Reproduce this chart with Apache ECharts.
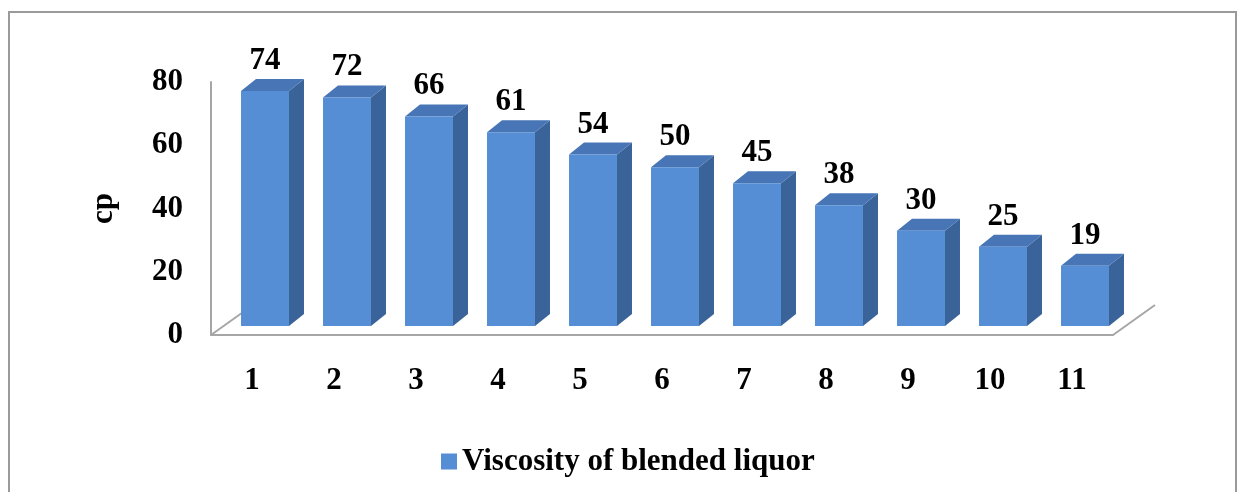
<!DOCTYPE html>
<html>
<head>
<meta charset="utf-8">
<script src="https://cdn.jsdelivr.net/npm/echarts@6/dist/echarts.min.js"></script>
<style>
  html, body { margin: 0; padding: 0; background: #fff; }
  #main { width: 1238px; height: 492px; }
</style>
</head>
<body>
<div id="main"></div>
<script>
// data
const categories = ['1', '2', '3', '4', '5', '6', '7', '8', '9', '10', '11'];
const viscosity = [74, 72, 66, 61, 54, 50, 45, 38, 30, 25, 19];
const yTicks = [0, 20, 40, 60, 80];
const seriesName = 'Viscosity of blended liquor';

window.addEventListener('load', function () {
    let chart = echarts.init(document.getElementById('main'));
    let font = 'Liberation Serif, Times New Roman, serif';

    // 3d look
    let dx = 15, dy = 12;
    let front = '#558ED5', side = '#3A6399', topc = '#4775B5';

    // label grid (floor / wall) and bar grid
    let lg = { left: 211, top: 82, width: 902, height: 253 };
    let bg = { left: 224, top: 72, width: 902, height: 254 };

    function renderBar(params, api) {
        let i = api.value(0);
        let v = api.value(1);
        let p0 = api.coord([i, 0]);
        let p1 = api.coord([i, v]);
        let w = api.size([1, 0])[0] * 0.585;
        let x0 = p0[0] - w / 2, x1 = p0[0] + w / 2;
        let yb = p0[1], yt = p1[1];
        return {
            type: 'group',
            children: [
                { type: 'polygon', shape: { points: [[x1, yb], [x1 + dx, yb - dy], [x1 + dx, yt - dy], [x1, yt]] },
                  style: { fill: side } },
                { type: 'polygon', shape: { points: [[x0, yt], [x1, yt], [x1 + dx, yt - dy], [x0 + dx, yt - dy]] },
                  style: { fill: topc } },
                { type: 'rect', shape: { x: x0, y: yt, width: w, height: yb - yt },
                  style: { fill: front } },
                { type: 'text', style: { text: String(v), x: p0[0], y: yt - 30, align: 'center', verticalAlign: 'middle',
                  font: 'bold 31px ' + font, fill: '#000' } }
            ]
        };
    }

    let option = {
        animation: false,
        grid: [
            Object.assign({}, bg),
            Object.assign({}, lg)
        ],
        xAxis: [
            { gridIndex: 0, type: 'category', data: categories, show: false },
            { gridIndex: 1, type: 'category', data: categories,
              axisLine: { show: true, lineStyle: { color: '#a6a6a6', width: 2 } },
              axisTick: { show: false },
              axisLabel: { margin: 46, verticalAlign: 'middle', color: '#000', fontSize: 31, fontWeight: 'bold', fontFamily: font } }
        ],
        yAxis: [
            { gridIndex: 0, type: 'value', min: 0, max: 80, interval: 20, show: false },
            { gridIndex: 1, type: 'value', min: yTicks[0], max: yTicks[yTicks.length - 1], interval: 20,
              name: 'cp', nameLocation: 'middle', nameGap: 92,
              nameTextStyle: { color: '#000', fontSize: 31, fontWeight: 'bold', fontFamily: font },
              axisLine: { show: true, lineStyle: { color: '#a6a6a6', width: 2 } },
              axisTick: { show: false },
              splitLine: { show: false },
              axisLabel: { margin: 28, color: '#000', fontSize: 31, fontWeight: 'bold', fontFamily: font } }
        ],
        legend: {
            left: 436, top: 441,
            itemWidth: 16, itemHeight: 16, itemGap: 10,
            icon: 'rect',
            data: [seriesName],
            textStyle: { color: '#000', fontSize: 31, fontWeight: 'bold', fontFamily: font }
        },
        graphic: [
            { type: 'rect', shape: { x: 9, y: 12, width: 1227, height: 520 },
              style: { fill: null, stroke: '#9a9a9a', lineWidth: 2 }, z: 0 },
            { type: 'line', shape: { x1: lg.left, y1: lg.top + lg.height, x2: lg.left + 42, y2: lg.top + lg.height - 30 },
              style: { stroke: '#a6a6a6', lineWidth: 2 }, z: 0 },
            { type: 'line', shape: { x1: lg.left + lg.width, y1: lg.top + lg.height, x2: lg.left + lg.width + 42, y2: lg.top + lg.height - 30 },
              style: { stroke: '#a6a6a6', lineWidth: 2 }, z: 0 }
        ],
        series: [{
            name: seriesName,
            type: 'custom',
            xAxisIndex: 0,
            yAxisIndex: 0,
            z: 5,
            itemStyle: { color: front },
            renderItem: renderBar,
            encode: { x: 0, y: 1 },
            data: viscosity.map(function (v, i) { return [i, v]; })
        }]
    };

    chart.setOption(option);
}, false);
</script>
</body>
</html>
